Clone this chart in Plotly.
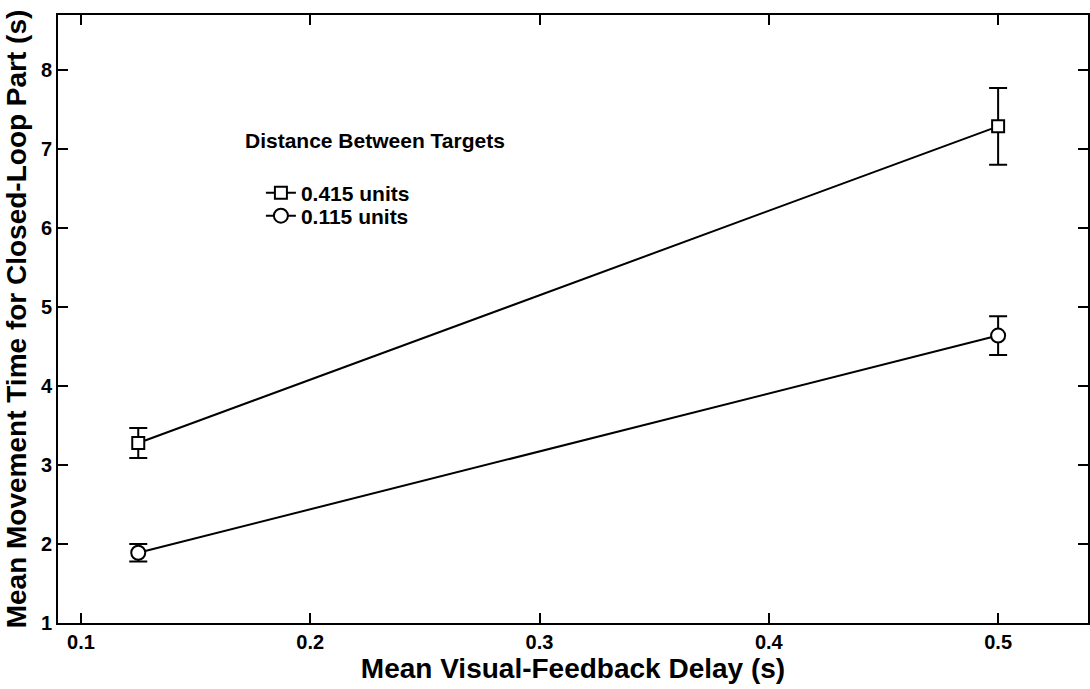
import plotly.graph_objects as go

delays = [0.125, 0.5]
mt_far = [3.28, 7.29]
err_far = [0.19, 0.485]
mt_near = [1.89, 4.64]
err_near = [0.11, 0.245]
names = ["0.415 units", "0.115 units"]
x_ticks = [0.1, 0.2, 0.3, 0.4, 0.5]
y_ticks = [1, 2, 3, 4, 5, 6, 7, 8]

FONT = "Liberation Sans, Arial, sans-serif"

fig = go.Figure()
fig.add_trace(go.Scatter(
    x=delays, y=mt_far, name=names[0], mode="lines+markers", legend="legend",
    line=dict(color="black", width=2),
    marker=dict(symbol="square", size=12, color="white", line=dict(color="black", width=2)),
    error_y=dict(type="data", array=err_far, visible=True, color="black", thickness=2, width=9),
))
fig.add_trace(go.Scatter(
    x=delays, y=mt_near, name=names[1], mode="lines+markers", legend="legend2",
    line=dict(color="black", width=2),
    marker=dict(symbol="circle", size=14, color="white", line=dict(color="black", width=2)),
    error_y=dict(type="data", array=err_near, visible=True, color="black", thickness=2, width=9),
))

leg_common = dict(xanchor="left", yanchor="middle", bgcolor="rgba(0,0,0,0)",
                  font=dict(size=21, family=FONT, weight="bold", color="black"),
                  itemwidth=30, borderwidth=0)

fig.update_layout(
    width=1090, height=689,
    margin=dict(l=58, r=0, t=15, b=66),
    paper_bgcolor="white", plot_bgcolor="white",
    font=dict(family=FONT, color="black"),
    showlegend=True,
    legend=dict(x=0.197, y=0.7072, **leg_common),
    legend2=dict(x=0.197, y=0.6694, **leg_common),
    xaxis=dict(
        range=[0.09, 0.5392], tickvals=x_ticks, ticktext=[str(v) for v in x_ticks],
        ticks="inside", ticklen=10, tickwidth=1.5, tickcolor="black",
        showline=True, linecolor="black", linewidth=2, mirror="ticks",
        showgrid=False, zeroline=False,
        tickfont=dict(size=20, family=FONT, weight="bold"),
        title=dict(text="Mean Visual-Feedback Delay (s)", font=dict(size=28, family=FONT, weight="bold"), standoff=5),
    ),
    yaxis=dict(
        range=[1, 8.7], tickvals=y_ticks, ticktext=[str(v) for v in y_ticks],
        ticks="inside", ticklen=10, tickwidth=1.5, tickcolor="black",
        showline=True, linecolor="black", linewidth=2, mirror="ticks",
        showgrid=False, zeroline=False,
        tickfont=dict(size=20, family=FONT, weight="bold"),
        title=dict(text="Mean Movement Time for Closed-Loop Part (s)", font=dict(size=28, family=FONT, weight="bold"), standoff=6),
    ),
    annotations=[dict(
        text="Distance Between Targets", x=0.1793, y=0.7928, xref="paper", yref="paper",
        xanchor="left", yanchor="middle", showarrow=False,
        font=dict(size=21, family=FONT, weight="bold", color="black"),
    )],
)

fig.write_html("out.html")
